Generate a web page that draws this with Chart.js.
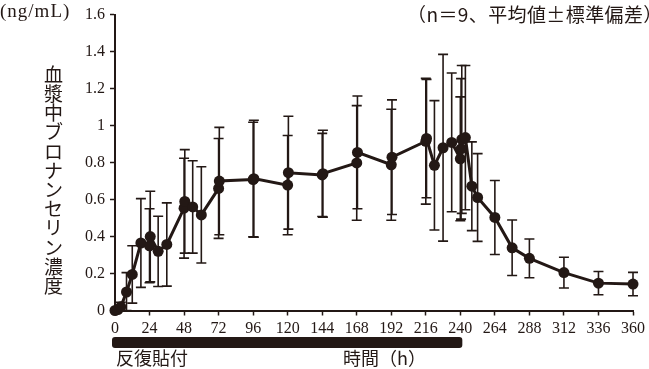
<!DOCTYPE html>
<html><head><meta charset="utf-8">
<script src="https://cdn.jsdelivr.net/npm/chart.js@4.4.1/dist/chart.umd.min.js"></script>
<style>html,body{margin:0;padding:0;background:#fff}#wrap{width:649px;height:369px;position:relative}</style>
</head><body><div id="wrap"><canvas id="c" width="649" height="369"></canvas></div>
<script>
// ---- data ----
const timesH   = [0, 2, 4, 8, 12, 18, 24, 24.5, 30, 36, 48, 48.5, 54, 60, 72, 72.5, 96, 96.5, 120, 120.5, 144, 144.5, 168, 168.5, 192, 192.5, 216, 216.5, 222, 228, 234, 240, 240.5, 241, 243.5, 248, 252, 264, 276, 288, 312, 336, 360];
const meanConc = [0, 0.005, 0.02, 0.10, 0.195, 0.365, 0.35, 0.40, 0.32, 0.357, 0.553, 0.59, 0.56, 0.517, 0.66, 0.70, 0.708, 0.713, 0.678, 0.745, 0.733, 0.74, 0.798, 0.855, 0.788, 0.829, 0.915, 0.93, 0.785, 0.88, 0.909, 0.82, 0.874, 0.925, 0.935, 0.672, 0.611, 0.503, 0.339, 0.282, 0.205, 0.148, 0.143];
const sdConc   = [0, 0.008, 0.025, 0.105, 0.155, 0.24, 0.20, 0.245, 0.19, 0.225, 0.27, 0.28, 0.25, 0.26, 0.27, 0.29, 0.31, 0.316, 0.268, 0.305, 0.225, 0.235, 0.31, 0.305, 0.30, 0.31, 0.34, 0.32, 0.35, 0.505, 0.375, 0.335, 0.38, 0.40, 0.39, 0.24, 0.237, 0.20, 0.15, 0.105, 0.083, 0.063, 0.063];
const xTickValues = [0, 24, 48, 72, 96, 120, 144, 168, 192, 216, 240, 264, 288, 312, 336, 360];
const yTickValues = [0, 0.2, 0.4, 0.6, 0.8, 1, 1.2, 1.4, 1.6];
const applicationPeriod = [0, 240];
const yTitleText = '血漿中ブロナンセリン濃度';
const unitText = '(ng/mL)';
const noteText = '（n＝9、平均値±標準偏差）';
const periodLabel = '反復貼付';
const xTitleText = '時間（h）';

const ink = '#231815';
const cjk = '"Noto Sans CJK JP", "Noto Sans", sans-serif';
const serif = '"Liberation Serif", "DejaVu Serif", serif';

const points = timesH.map((t, i) => ({x: t, y: meanConc[i]}));

const errorBars = {
  id: 'errorBars',
  beforeDatasetsDraw(chart) {
    const {ctx, chartArea, scales: {x, y}} = chart;
    ctx.save();
    ctx.beginPath();
    ctx.rect(chartArea.left - 20, 0, chartArea.width + 40, chartArea.bottom + 2);
    ctx.clip();
    ctx.strokeStyle = ink;
    ctx.lineWidth = 1.6;
    timesH.forEach((t, i) => {
      if (sdConc[i] <= 0.01) return;
      const px = x.getPixelForValue(t);
      const hi = y.getPixelForValue(meanConc[i] + sdConc[i]);
      const lo = y.getPixelForValue(Math.max(0, meanConc[i] - sdConc[i]));
      ctx.beginPath();
      ctx.moveTo(px, hi); ctx.lineTo(px, lo);
      ctx.moveTo(px - 5, hi); ctx.lineTo(px + 5, hi);
      ctx.moveTo(px - 5, lo); ctx.lineTo(px + 5, lo);
      ctx.stroke();
    });
    ctx.restore();
  }
};

const decorations = {
  id: 'decorations',
  afterDraw(chart) {
    const {ctx, scales: {x}} = chart;
    ctx.save();
    ctx.fillStyle = ink;
    // application period bar
    const x0 = x.getPixelForValue(applicationPeriod[0]) - 3;
    const x1 = x.getPixelForValue(applicationPeriod[1]) + 2;
    ctx.beginPath();
    ctx.roundRect(x0, 337, x1 - x0, 11, 3);
    ctx.fill();
    // unit
    ctx.font = '19px ' + serif;
    ctx.letterSpacing = '1px';
    ctx.textBaseline = 'alphabetic';
    ctx.textAlign = 'left';
    ctx.fillText(unitText, 0, 17);
    // note
    ctx.font = '19px ' + cjk;
    ctx.letterSpacing = '0.4px';
    ctx.textBaseline = 'middle';
    ctx.fillText(noteText, 407, 15);
    ctx.letterSpacing = '0px';
    // vertical y title
    ctx.font = '19px ' + cjk;
    ctx.textAlign = 'center';
    [...yTitleText].forEach((ch, i) => ctx.fillText(ch, 53.5, 74.6 + i * 19.2));
    // bottom labels
    ctx.font = '18px ' + cjk;
    ctx.textAlign = 'left';
    ctx.fillText(periodLabel, 116, 358.5);
    ctx.fillText(xTitleText, 343, 358.5);
    ctx.restore();
  }
};

new Chart(document.getElementById('c'), {
  type: 'scatter',
  data: {
    datasets: [{
      data: points,
      showLine: true,
      borderColor: ink,
      borderWidth: 3,
      backgroundColor: ink,
      pointBackgroundColor: ink,
      pointBorderWidth: 0,
      pointRadius: 5.5,
      pointHoverRadius: 5.5,
      tension: 0,
      clip: false
    }]
  },
  options: {
    responsive: false,
    animation: false,
    events: [],
    layout: {padding: {top: 11, right: 14, left: 0, bottom: 0}},
    plugins: {legend: {display: false}, tooltip: {enabled: false}},
    scales: {
      x: {
        type: 'linear', min: 0, max: 360,
        afterBuildTicks: s => { s.ticks = xTickValues.map(v => ({value: v})); },
        afterFit: s => { s.height = 58.5; },
        ticks: {autoSkip: false, maxRotation: 0, padding: 4, color: ink, font: {family: serif, size: 16}, callback: v => String(v)},
        grid: {display: true, drawOnChartArea: false, drawTicks: true, tickLength: 5, tickColor: ink, tickWidth: 1.5},
        border: {display: true, color: ink, width: 2}
      },
      y: {
        type: 'linear', min: 0, max: 1.6,
        afterBuildTicks: s => { s.ticks = yTickValues.map(v => ({value: v})); },
        afterFit: s => { s.width = 115; },
        ticks: {autoSkip: false, padding: 5, color: ink, font: {family: serif, size: 16}, callback: v => String(v)},
        grid: {display: true, drawOnChartArea: false, drawTicks: true, tickLength: 5, tickColor: ink, tickWidth: 1.5},
        border: {display: true, color: ink, width: 2}
      }
    }
  },
  plugins: [errorBars, decorations]
});
</script></body></html>
